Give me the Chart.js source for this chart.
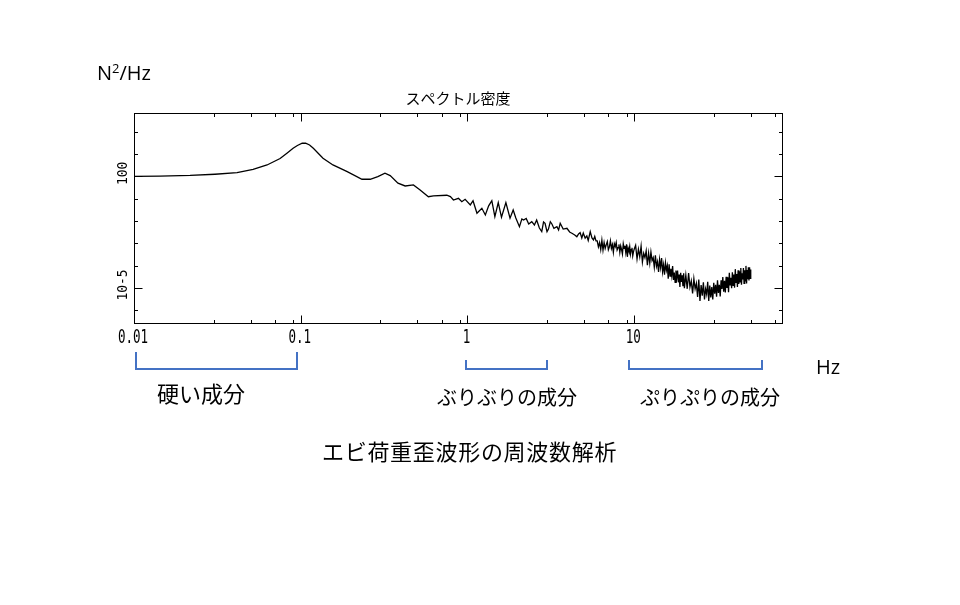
<!DOCTYPE html>
<html lang="ja">
<head>
<meta charset="utf-8">
<title>スペクトル密度</title>
<script src="https://cdn.jsdelivr.net/npm/chart.js@4.4.1/dist/chart.umd.min.js"></script>
<style>
  html, body { margin: 0; padding: 0; background: #fff; }
  #wrap { position: relative; width: 960px; height: 605px; overflow: hidden; }
  #chart { position: absolute; left: 0; top: 0; }
  .note { position: absolute; white-space: nowrap; color: #000; line-height: 1; }
  .jp  { font-family: "Noto Sans CJK JP", sans-serif; }
  .lat { font-family: "Open Sans", "Noto Sans", sans-serif; }
  .brk { position: absolute; box-sizing: border-box; border: 2px solid #4472c4; border-top: none; }
</style>
</head>
<body>
<div id="wrap">
  <canvas id="chart" width="960" height="605"></canvas>

  <div class="note lat" style="left:97px;top:63px;font-size:20px">N<span style="font-size:13px;position:relative;top:-7px">2</span>/Hz</div>
  <div class="note lat" style="left:816px;top:357px;font-size:20px">Hz</div>

  <div class="brk" style="left:135px;top:352px;width:163px;height:18px"></div>
  <div class="brk" style="left:465px;top:360px;width:83px;height:10px"></div>
  <div class="brk" style="left:628px;top:360px;width:135px;height:10px"></div>

  <div class="note jp" style="left:157px;top:381px;font-size:22px">硬い成分</div>
  <div class="note jp" style="left:437px;top:387px;font-size:20px">ぶりぶりの成分</div>
  <div class="note jp" style="left:640px;top:387px;font-size:20px">ぷりぷりの成分</div>
  <div class="note jp" style="left:322px;top:439px;font-size:22px;letter-spacing:0.7px">エビ荷重歪波形の周波数解析</div>
</div>

<script>
/* ---------------------------------------------------------------
   Data: frequency (Hz) and spectral density
   --------------------------------------------------------------- */
const freqHz = [
  // smooth low-frequency part
  0.01, 0.0143, 0.0217, 0.0306, 0.0415, 0.0518, 0.0628, 0.0752, 0.083, 0.090,
  0.0955, 0.102, 0.107, 0.113, 0.119, 0.136, 0.156, 0.190, 0.233, 0.261,
  0.290, 0.320, 0.344, 0.383, 0.423, 0.474, 0.52, 0.583, 0.625, 0.752,
  0.79, 0.824, 0.883, 0.925, 0.968, 1.04, 1.08,
  // ripples 1 - 6 Hz
  1.14, 1.22, 1.28, 1.34, 1.40, 1.46, 1.53, 1.60, 1.70, 1.80,
  1.88, 1.95, 2.05, 2.12, 2.17, 2.25, 2.33, 2.43, 2.52, 2.60,
  2.70, 2.79, 2.86, 2.92, 3.00, 3.06, 3.14, 3.21, 3.30, 3.44,
  3.52, 3.60, 3.75, 3.95, 4.10, 4.23, 4.40, 4.53, 4.64, 4.74,
  4.85, 4.95, 5.08, 5.20, 5.30, 5.45, 5.58, 5.70, 5.80, 5.90,
  // dense noisy part 6 - 10 Hz
  6.0, 6.1, 6.2, 6.3, 6.4, 6.5, 6.6, 6.7, 6.8, 6.9,
  7.0, 7.1, 7.2, 7.3, 7.4, 7.5, 7.6, 7.7, 7.8, 7.9,
  8.0, 8.1, 8.2, 8.3, 8.4, 8.5, 8.6, 8.7, 8.8, 8.9,
  9.0, 9.1, 9.2, 9.3, 9.4, 9.5, 9.6, 9.7, 9.8, 9.9, 10.0,
  // 10 - 20 Hz
  10.2, 10.4, 10.6, 10.8, 11.0, 11.2, 11.4, 11.6, 11.8, 12.0,
  12.2, 12.4, 12.6, 12.8, 13.0, 13.2, 13.4, 13.6, 13.8, 14.0,
  14.2, 14.4, 14.6, 14.8, 15.0, 15.2, 15.4, 15.6, 15.8, 16.0,
  16.2, 16.4, 16.6, 16.8, 17.0, 17.2, 17.4, 17.6, 17.8, 18.0,
  18.2, 18.4, 18.6, 18.8, 19.0, 19.2, 19.4, 19.6, 19.8, 20.0,
  // 20 - 50 Hz
  20.4, 20.8, 21.2, 21.6, 22.0, 22.4, 22.8, 23.2, 23.6, 24.0,
  24.4, 24.8, 25.2, 25.6, 26.0, 26.4, 26.8, 27.2, 27.6, 28.0,
  28.4, 28.8, 29.2, 29.6, 30.0, 30.4, 30.8, 31.2, 31.6, 32.0,
  32.4, 32.8, 33.2, 33.6, 34.0, 34.4, 34.8, 35.2, 35.6, 36.0,
  36.4, 36.8, 37.2, 37.6, 38.0, 38.4, 38.8, 39.2, 39.6, 40.0,
  40.4, 40.8, 41.2, 41.6, 42.0, 42.4, 42.8, 43.2, 43.6, 44.0,
  44.4, 44.8, 45.2, 45.6, 46.0, 46.4, 46.8, 47.2, 47.6, 48.0,
  48.4, 48.8, 49.2, 49.6, 50.0,
];

const psd = [
  1.0, 1.03, 1.11, 1.26, 1.48, 2.06, 3.28, 6.4, 11.3, 18.4,
  24.5, 30.8, 31.0, 25.9, 18.4, 6.55, 3.28, 1.64, 0.75, 0.75,
  0.98, 1.39, 1.09, 0.50, 0.375, 0.416, 0.248, 0.124, 0.134, 0.144,
  0.125, 0.088, 0.105, 0.074, 0.095, 0.053, 0.082,

  0.0224, 0.0376, 0.0188, 0.048, 0.082, 0.0158, 0.067, 0.0148, 0.067, 0.0134,
  0.0315, 0.0138, 0.0056, 0.0125, 0.0112, 0.0131, 0.0074, 0.0094, 0.0067, 0.0112,
  0.0049, 0.00336, 0.0091, 0.0080, 0.00336, 0.0044, 0.0094, 0.0074, 0.0047, 0.0056,
  0.0040, 0.0080, 0.0044, 0.00476, 0.00325, 0.00285, 0.0024, 0.0020, 0.00264, 0.00303,
  0.00175, 0.0029, 0.0017, 0.00215, 0.00135, 0.00336, 0.00175, 0.00142, 0.00204, 0.00129,

  1.3e-3, 7.0e-4, 1.1e-3, 5.3e-4, 1.4e-3, 5.0e-4, 1.1e-3, 6.0e-4, 8.8e-4, 1.2e-3,
  5.2e-4, 7.0e-4, 1.3e-3, 6.0e-4, 8.8e-4, 4.0e-4, 9.6e-4, 7.2e-4, 1.1e-3, 5.1e-4,
  6.4e-4, 9.0e-4, 4.0e-4, 7.6e-4, 5.2e-4, 3.3e-4, 9.5e-4, 6.0e-4, 7.8e-4, 4.0e-4,
  9.0e-4, 2.5e-4, 6.0e-4, 4.5e-4, 7.3e-4, 3.3e-4, 5.2e-4, 6.4e-4, 2.8e-4, 4.2e-4, 5.5e-4,

  8.2e-4, 2.0e-4, 5.5e-4, 2.5e-4, 7.5e-4, 1.45e-4, 3.6e-4, 2.3e-4, 4.6e-4, 1.05e-4,
  3.6e-4, 1.3e-4, 4.1e-4, 1.7e-4, 2.3e-4, 8.5e-5, 2.9e-4, 9.4e-5, 1.5e-4, 5.3e-5,
  1.9e-4, 8.2e-5, 2.2e-4, 5.3e-5, 1.1e-4, 4.0e-5, 1.35e-4, 6.3e-5, 1.0e-4, 2.6e-5,
  1.16e-4, 3.4e-5, 7.3e-5, 3.6e-5, 9.6e-5, 2.3e-5, 4.9e-5, 1.8e-5, 6.1e-5, 2.9e-5,
  6.1e-5, 1.8e-5, 4.0e-5, 1.1e-5, 4.8e-5, 1.85e-5, 3.75e-5, 1.2e-5, 4.6e-5, 9.9e-6,

  3.8e-5, 9.2e-6, 4.7e-5, 1.1e-5, 2.1e-5, 5.7e-6, 2.6e-5, 9.2e-6, 1.6e-5, 4.0e-6,
  2.4e-5, 2.6e-6, 1.35e-5, 4.5e-6, 1.8e-5, 3.1e-6, 9.1e-6, 5.3e-6, 1.9e-5, 2.6e-6,
  1.3e-5, 3.8e-6, 1.1e-5, 3.1e-6, 1.7e-5, 5.5e-6, 1.4e-5, 4.1e-6, 2.2e-5, 6.0e-6,
  1.4e-5, 4.2e-6, 2.2e-5, 9.0e-6, 3.1e-5, 6.8e-6, 2.1e-5, 6.3e-6, 3.2e-5, 1.0e-5,
  3.0e-5, 6.5e-6, 4.8e-5, 1.4e-5, 2.9e-5, 9.9e-6, 5.1e-5, 1.3e-5, 4.0e-5, 1.04e-5,
  7.0e-5, 1.8e-5, 4.3e-5, 1.1e-5, 6.3e-5, 1.5e-5, 5.6e-5, 1.9e-5, 7.8e-5, 1.4e-5,
  4.6e-5, 2.45e-5, 7.8e-5, 1.6e-5, 6.3e-5, 2.1e-5, 9.8e-5, 1.6e-5, 6.4e-5, 2.5e-5,
  8.4e-5, 2.15e-5, 8.4e-5, 2.7e-5, 6.8e-5,
];

// axis ticks
const xMajorTicks = [0.01, 0.1, 1, 10];
const xMinorTicks = [0.03, 0.05, 0.07, 0.09, 0.3, 0.5, 0.7, 0.9, 3, 5, 7, 9, 30, 50, 70];
const xTickLabels = ['0.01', '0.1', '1', '10'];
const yTicks      = [1e2, 1e1, 1e0, 1e-1, 1e-2, 1e-3, 1e-4, 1e-5, 1e-6];
const yLabelTicks = [1e0, 1e-5];
const yTickLabels = ['100', '10-5'];

const X_MIN = 0.01, X_MAX = 77;
const Y_MIN = 2.7e-7, Y_MAX = 700;

/* ---------------------------------------------------------------
   Frame plugin: boxed plot with inward ticks and tick labels
   --------------------------------------------------------------- */
const framePlugin = {
  id: 'frame',
  afterDatasetsDraw(chart) {
    const { ctx, chartArea: a, scales: { x, y } } = chart;
    const L = a.left + 0.5, R = a.right + 0.5, T = a.top + 0.5, B = a.bottom + 0.5;
    ctx.save();
    ctx.strokeStyle = '#000';
    ctx.lineWidth = 1;
    ctx.strokeRect(L, T, R - L, B - T);

    const seg = (x1, y1, x2, y2) => { ctx.beginPath(); ctx.moveTo(x1, y1); ctx.lineTo(x2, y2); ctx.stroke(); };

    // x ticks (bottom and top)
    xMajorTicks.concat(xMinorTicks).forEach(v => {
      const px = Math.round(x.getPixelForValue(v)) + 0.5;
      const len = xMajorTicks.includes(v) ? 8 : 3.5;
      seg(px, B, px, B - len);
      seg(px, T, px, T + len);
    });

    // y ticks (left and right)
    yTicks.forEach(v => {
      const py = Math.round(y.getPixelForValue(v)) + 0.5;
      const len = yLabelTicks.includes(v) ? 8 : 3.5;
      seg(L, py, L + len, py);
      seg(R, py, R - len, py);
    });

    // x tick labels, narrow tall digits
    ctx.fillStyle = '#000';
    ctx.font = '19px "DejaVu Sans Mono", monospace';
    ctx.textAlign = 'center';
    ctx.textBaseline = 'middle';
    xMajorTicks.forEach((v, i) => {
      const px = x.getPixelForValue(v);
      ctx.save();
      ctx.translate(px - 1, a.bottom + 15);
      ctx.scale(0.66, 1);
      ctx.fillText(xTickLabels[i], 0, 0);
      ctx.restore();
    });

    // y tick labels, rotated
    ctx.font = '14px "DejaVu Sans Mono", monospace';
    yLabelTicks.forEach((v, i) => {
      const py = y.getPixelForValue(v);
      ctx.save();
      ctx.translate(a.left - 11, py - 3);
      ctx.rotate(-Math.PI / 2);
      ctx.scale(0.92, 1);
      ctx.fillText(yTickLabels[i], 0, 0);
      ctx.restore();
    });

    ctx.restore();
  },
};

Chart.defaults.font.family = '"Noto Sans CJK JP", sans-serif';
Chart.defaults.color = '#000';

const points = freqHz.map((f, i) => ({ x: f, y: psd[i] }));

new Chart(document.getElementById('chart'), {
  type: 'line',
  plugins: [framePlugin],
  data: {
    datasets: [{
      label: 'スペクトル密度',
      data: points,
      borderColor: '#000',
      borderWidth: 1.3,
      pointRadius: 0,
      tension: 0,
      fill: false,
    }],
  },
  options: {
    responsive: false,
    animation: false,
    devicePixelRatio: 1,
    layout: { padding: { left: 134, right: 178, top: 89, bottom: 282 } },
    plugins: {
      legend: { display: false },
      tooltip: { enabled: false },
      title: {
        display: true,
        text: 'スペクトル密度',
        font: { size: 15, weight: 'normal' },
        padding: { top: 0, bottom: 6 },
      },
    },
    scales: {
      x: { type: 'logarithmic', display: false, bounds: 'data', min: X_MIN, max: X_MAX },
      y: { type: 'logarithmic', display: false, bounds: 'data', min: Y_MIN, max: Y_MAX },
    },
  },
});
</script>
</body>
</html>
